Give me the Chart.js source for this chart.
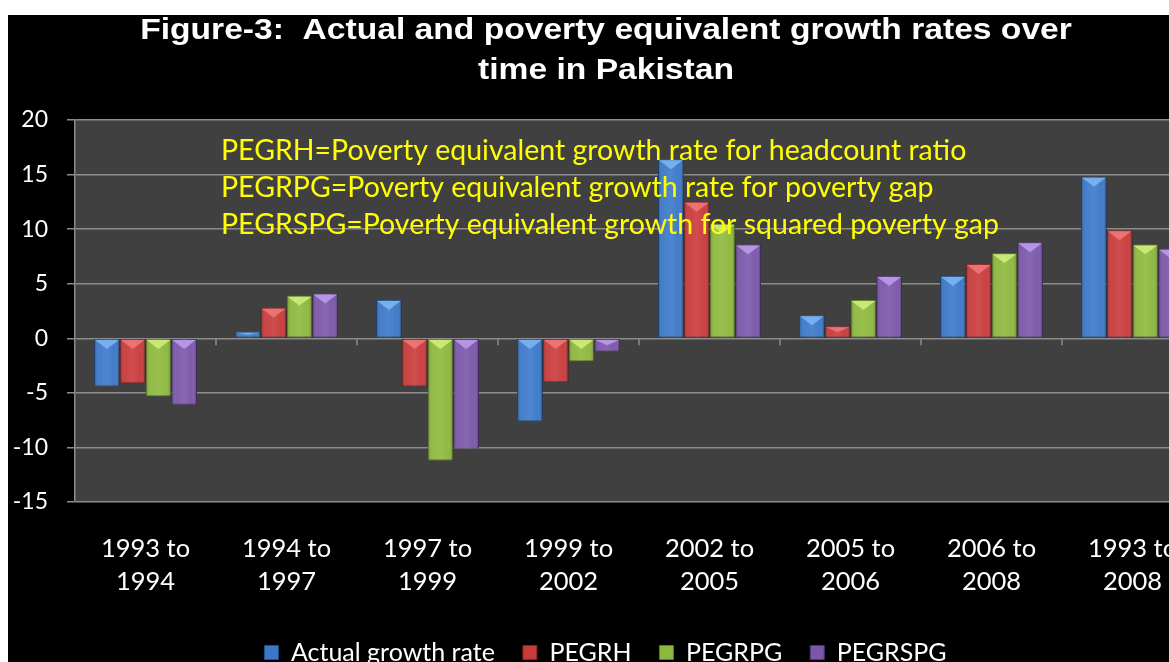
<!DOCTYPE html>
<html>
<head>
<meta charset="utf-8">
<script src="https://cdn.jsdelivr.net/npm/chart.js@4.4.1/dist/chart.umd.min.js"></script>
<style>
  html, body { margin: 0; padding: 0; background: #ffffff; overflow: hidden; width: 1169px; height: 662px; }
  #frame { position: absolute; left: 8px; top: 15px; width: 1161px; height: 647px; background: #000; overflow: hidden; }
  #holder { position: absolute; left: 0; top: 0; width: 1225px; height: 660px; }
</style>
</head>
<body>
<div id="frame"><div id="holder"><canvas id="c" width="1225" height="660"></canvas></div></div>
<script>
const categories = [["1993 to","1994"],["1994 to","1997"],["1997 to","1999"],["1999 to","2002"],["2002 to","2005"],["2005 to","2006"],["2006 to","2008"],["1993 to","2008"]];
const actualGrowth = [-4.4, 0.6, 3.5, -7.6, 16.4, 2.1, 5.7, 14.8];
const pegrh        = [-4.1, 2.8, -4.4, -4.0, 12.5, 1.1, 6.8, 9.9];
const pegrpg       = [-5.3, 3.9, -11.2, -2.1, 10.5, 3.5, 7.8, 8.6];
const pegrspg      = [-6.1, 4.1, -10.1, -1.2, 8.6, 5.7, 8.8, 8.2];
const seriesNames  = ["Actual growth rate", "PEGRH", "PEGRPG", "PEGRSPG"];
const yTicks = [20, 15, 10, 5, 0, -5, -10, -15];
const titleLines = ["Figure-3:  Actual and poverty equivalent growth rates over", "time in Pakistan"];
const noteLines = [
  "PEGRH=Poverty equivalent growth rate for headcount ratio",
  "PEGRPG=Poverty equivalent growth rate for poverty gap",
  "PEGRSPG=Poverty equivalent growth for squared poverty gap"
];

const colors = ["#3b78c9", "#c93a3a", "#8db83d", "#7b56a9"];
const lights = ["#7fb6f5", "#f07a7a", "#d2f07a", "#c09ef0"];
const darks  = ["#23508c", "#8a2222", "#5c7d22", "#4f3477"];
const UI = "Lato, 'Open Sans', sans-serif";

const plotBg = {
  id: 'plotBg',
  beforeDraw(chart) {
    const {ctx, chartArea: a} = chart;
    ctx.save();
    ctx.fillStyle = '#404040';
    ctx.fillRect(a.left, a.top, a.right - a.left, a.bottom - a.top);
    ctx.restore();
  }
};

const extras = {
  id: 'extras',
  afterDatasetsDraw(chart) {
    const ctx = chart.ctx;
    chart.data.datasets.forEach((ds, di) => {
      const meta = chart.getDatasetMeta(di);
      meta.data.forEach((bar) => {
        const w = bar.width, x0 = bar.x - w / 2, x1 = bar.x + w / 2;
        const top = Math.min(bar.y, bar.base), bot = Math.max(bar.y, bar.base);
        const h = bot - top;
        if (h < 1) return;
        ctx.save();
        const g = ctx.createLinearGradient(x0, 0, x1, 0);
        g.addColorStop(0, 'rgba(0,0,0,0.25)');
        g.addColorStop(0.2, 'rgba(255,255,255,0.05)');
        g.addColorStop(0.5, 'rgba(255,255,255,0.10)');
        g.addColorStop(0.8, 'rgba(255,255,255,0.03)');
        g.addColorStop(1, 'rgba(0,0,0,0.30)');
        ctx.fillStyle = g;
        ctx.fillRect(x0, top, w, h);
        const th = Math.min(w / 2.6, h / 2);
        ctx.beginPath();
        ctx.moveTo(x0 + 1, top + 1);
        ctx.lineTo(x1 - 1, top + 1);
        ctx.lineTo(bar.x, top + th);
        ctx.closePath();
        ctx.fillStyle = lights[di];
        ctx.globalAlpha = 0.85;
        ctx.fill();
        ctx.restore();
      });
    });
    const xs = chart.scales.x, ys = chart.scales.y;
    const y0 = ys.getPixelForValue(0);
    ctx.save();
    ctx.strokeStyle = '#8c8c8c';
    ctx.lineWidth = 1.5;
    ctx.beginPath();
    for (let i = 1; i < categories.length; i++) {
      const xb = (xs.getPixelForValue(i - 1) + xs.getPixelForValue(i)) / 2;
      ctx.moveTo(xb, y0);
      ctx.lineTo(xb, y0 + 7);
    }
    ctx.stroke();
    ctx.restore();
  },
  afterDraw(chart) {
    const ctx = chart.ctx;
    ctx.save();
    ctx.fillStyle = '#ffffff';
    ctx.font = "bold 30px 'Liberation Sans', Arial, sans-serif";
    ctx.textAlign = 'center';
    ctx.textBaseline = 'alphabetic';
    const cx = 598;
    titleLines.forEach((t, i) => {
      ctx.save();
      ctx.translate(cx, 24 + i * 40);
      ctx.scale(1.12, 1);
      ctx.fillText(t, 0, 0);
      ctx.restore();
    });
    ctx.fillStyle = '#ffff00';
    ctx.font = "28.5px " + UI;
    ctx.textAlign = 'left';
    noteLines.forEach((t, i) => ctx.fillText(t, 213, 145 + i * 37));
    ctx.restore();
  }
};

const datasets = [actualGrowth, pegrh, pegrpg, pegrspg].map((d, i) => ({
  label: seriesNames[i],
  data: d,
  backgroundColor: colors[i],
  borderColor: darks[i],
  borderWidth: 1,
  borderSkipped: false,
  categoryPercentage: 0.73,
  barPercentage: 1.0
}));

new Chart(document.getElementById('c'), {
  type: 'bar',
  data: { labels: categories, datasets },
  options: {
    responsive: false,
    animation: false,
    devicePixelRatio: 1,
    layout: { padding: { top: 105, left: 0, right: 30, bottom: 0 } },
    plugins: {
      title: { display: false },
      tooltip: { enabled: false },
      legend: {
        position: 'bottom',
        labels: {
          color: '#ffffff',
          font: { family: UI, size: 25 },
          boxWidth: 14,
          boxHeight: 14,
          padding: 28,
          generateLabels(chart) {
            return chart.data.datasets.map((ds, i) => ({
              text: ds.label,
              fillStyle: colors[i],
              strokeStyle: darks[i],
              lineWidth: 1,
              fontColor: '#ffffff',
              datasetIndex: i,
              hidden: false
            }));
          }
        }
      }
    },
    scales: {
      x: {
        grid: { display: false, drawTicks: false },
        border: { display: false },
        ticks: {
          color: '#ffffff',
          font: { family: UI, size: 25.5, lineHeight: 1.3 },
          padding: 30,
          maxRotation: 0,
          autoSkip: false
        },
        afterFit(s) { s.height = 110; }
      },
      y: {
        min: -15, max: 20,
        afterBuildTicks(s) { s.ticks = yTicks.map(v => ({ value: v })); },
        grid: { color: '#8c8c8c', lineWidth: 1.5, tickLength: 8, tickColor: '#8c8c8c' },
        border: { display: true, color: '#8c8c8c', width: 1.5 },
        ticks: {
          color: '#ffffff',
          font: { family: UI, size: 23 },
          padding: 19,
          crossAlign: 'near'
        },
        afterFit(s) { s.width = 67; }
      }
    }
  },
  plugins: [plotBg, extras]
});
</script>
</body>
</html>
